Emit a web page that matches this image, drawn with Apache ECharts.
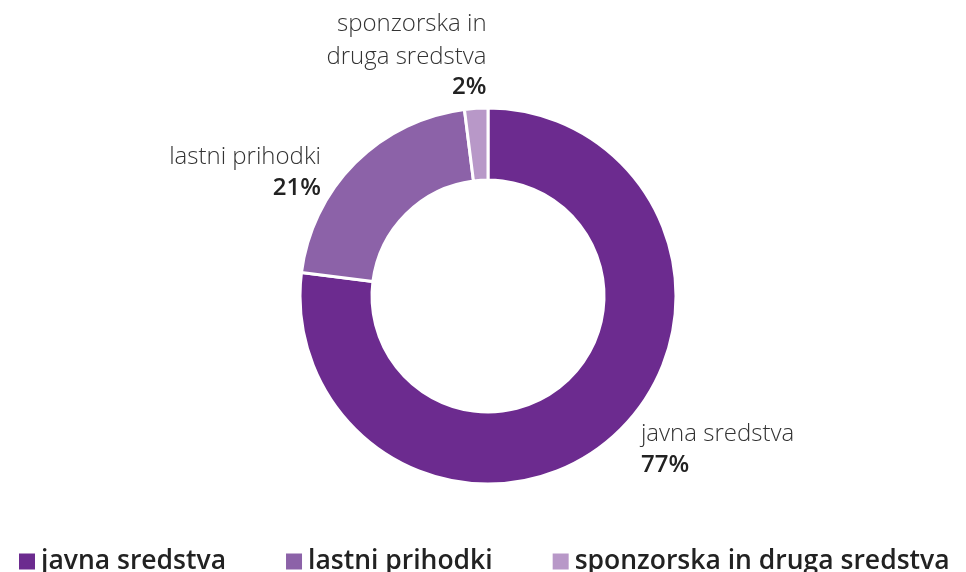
<!DOCTYPE html>
<html lang="sl">
<head>
    <meta charset="UTF-8">
    <title>Viri financiranja</title>
    <style>
        body { padding: 0; margin: 0; background-color: #FFFFFF; overflow: hidden; }
        #main_chart { width: 966px; height: 572px; }
    </style>
</head>
<body>
<div id="main_chart"></div>
<script type="text/javascript" src="https://cdn.jsdelivr.net/npm/echarts@6/dist/echarts.min.js"></script>
<script type="text/javascript">
var categories = ['javna sredstva', 'lastni prihodki', 'sponzorska in druga sredstva'];
var labelNames = ['javna sredstva', 'lastni prihodki', 'sponzorska in\ndruga sredstva'];
var values = [77, 21, 2];
var colors = ['#6C2B8F', '#8C62A8', '#B898C8'];
// label nudges (dx, dy) per slice
var labelShift = [[7, 4], [-3, 0], [26, -44]];

var dom = document.getElementById('main_chart');

var pieData = categories.map(function (c, i) {
    return {
        name: c,
        value: values[i],
        itemStyle: { color: colors[i] }
    };
});

var option = {
    animation: false,
    legend: {
        left: 12,
        top: 543,
        itemWidth: 18,
        itemHeight: 18,
        itemGap: 58,
        icon: 'rect',
        textStyle: {
            fontFamily: 'Open Sans',
            fontSize: 26.5,
            fontWeight: 600,
            color: '#222'
        },
        data: categories
    },
    series: [
        {
            type: 'pie',
            center: [488, 296],
            radius: [116, 188],
            startAngle: 90,
            clockwise: true,
            itemStyle: {
                borderColor: '#fff',
                borderWidth: 3
            },
            label: {
                show: true,
                position: 'outside',
                formatter: function (p) {
                    return '{n|' + labelNames[p.dataIndex].replace('\n', '}\n{n|') + '}\n{v|' + p.value + '%}';
                },
                rich: {
                    n: { fontFamily: 'Open Sans', fontWeight: 300, fontSize: 24, color: '#333', lineHeight: 33 },
                    v: { fontFamily: 'Open Sans', fontWeight: 600, fontSize: 24, color: '#222', lineHeight: 28 }
                }
            },
            labelLine: { show: false, length: 10, length2: 10 },
            labelLayout: function (params) {
                var s = labelShift[params.dataIndex];
                return { dx: s[0], dy: s[1] };
            },
            data: pieData
        }
    ]
};

var chart = echarts.init(dom);
chart.setOption(option);
</script>
</body>
</html>
